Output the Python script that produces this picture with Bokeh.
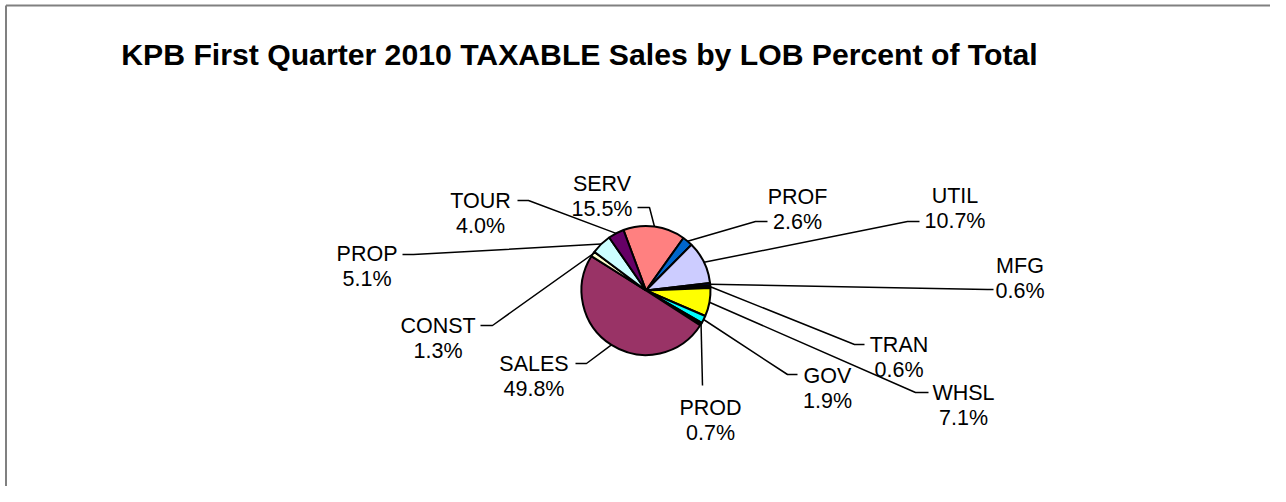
import math
from bokeh.plotting import figure
from bokeh.models import Range1d, ColumnDataSource
from bokeh.core.properties import value
from bokeh.embed import file_html
from bokeh.resources import INLINE

# ---------------- data ----------------
categories = ["SERV", "PROF", "UTIL", "MFG", "TRAN", "WHSL", "GOV", "PROD",
              "SALES", "CONST", "PROP", "TOUR"]
percents = [15.5, 2.6, 10.7, 0.6, 0.6, 7.1, 1.9, 0.7, 49.8, 1.3, 5.1, 4.0]
slice_colors = ["#FF8080", "#0066CC", "#CCCCFF", "#000080", "#000000", "#FFFF00",
                "#00FFFF", "#000000", "#993366", "#FFFFCC", "#CCFFFF", "#660066"]
title_text = "KPB First Quarter 2010 TAXABLE Sales by LOB Percent of Total"

# ---------------- layout (pixels, origin top-left of the figure) ----------------
W, H = 1270, 486
FONT = "Liberation Sans"
pie_cx, pie_cy, pie_r = 645.5, 290.0, 64.5
first_angle = -20.4          # clockwise from 12 o'clock
# label centre x, first-line baseline y, elbow point, end point of leader
label_cx = [601.5, 797, 954.5, 1019.5, 898.5, 963, 827, 710, 533.5, 437.5, 366.5, 480]
label_y1 = [183, 196, 195, 265, 344, 392, 375, 407, 363, 325, 253, 200]
elbow = [(649, 207), (755, 221), (907, 221), (987, 289), (854, 344), (915, 392),
         (787, 374), (702, 385), (586, 363), (492, 325), (413, 254), (528, 200)]
lead_end = [(637, 207), (767, 221), (919, 221), (993, 289), (864, 344), (928, 392),
            (797, 374), (702, 385), (575, 363), (480, 325), (402, 254), (517, 200)]
line_gap = 25


def sy(py):
    # pixel y (from top) -> data y
    return H - py


p = figure(width=W, height=H, output_backend="svg", toolbar_location=None,
           x_range=Range1d(0, W), y_range=Range1d(0, H),
           x_axis_location=None, y_axis_location=None, min_border=0)
p.xgrid.visible = False
p.ygrid.visible = False
p.outline_line_color = None
p.background_fill_color = "white"
p.border_fill_color = "white"

# frame lines (top and left)
p.segment(x0=[5.5, 5.5], y0=[sy(5), sy(5)], x1=[W, 5.5], y1=[sy(5), sy(H)],
          line_color="#808080", line_width=2)

# title
p.text(x=[579], y=[sy(54)], text=[title_text], text_font=value(FONT),
       text_font_size="30.2px", text_font_style="bold", text_align="center",
       text_baseline="alphabetic", text_color="black")

# pie wedges
total = sum(percents)
starts, ends, mids = [], [], []
acc = first_angle
for v in percents:
    a0 = acc
    a1 = acc + v / total * 360.0
    starts.append(math.radians(90 - a1))
    ends.append(math.radians(90 - a0))
    mids.append((a0 + a1) / 2)
    acc = a1

src = ColumnDataSource(dict(start=starts, end=ends, color=slice_colors, cat=categories))
p.wedge(x=pie_cx, y=sy(pie_cy), radius=pie_r, start_angle="start", end_angle="end",
        direction="anticlock", fill_color="color", line_color="black", line_width=2,
        source=src)

# leader lines
xs, ys = [], []
for m, (ex, ey), (tx, ty) in zip(mids, elbow, lead_end):
    px = pie_cx + pie_r * math.sin(math.radians(m))
    py = pie_cy - pie_r * math.cos(math.radians(m))
    xs.append([px, ex, tx])
    ys.append([sy(py), sy(ey), sy(ty)])
p.multi_line(xs=xs, ys=ys, line_color="black", line_width=1.5)

# labels
pct_text = ["%.1f%%" % v for v in percents]
p.text(x=label_cx, y=[sy(v) for v in label_y1], text=categories, text_font=value(FONT),
       text_font_size="21.5px", text_align="center", text_baseline="alphabetic",
       text_color="black")
p.text(x=label_cx, y=[sy(v + line_gap) for v in label_y1], text=pct_text, text_font=value(FONT),
       text_font_size="21.5px", text_align="center", text_baseline="alphabetic",
       text_color="black")

open("out.html", "w").write(file_html(p, INLINE))
